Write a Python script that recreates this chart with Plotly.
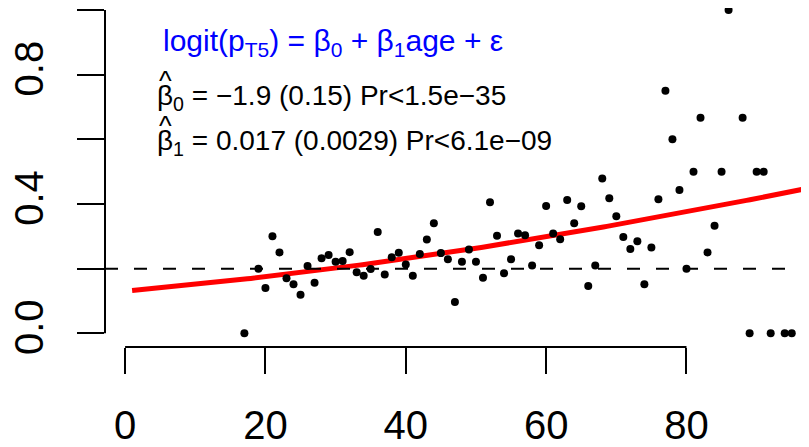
import numpy as np
import plotly.graph_objects as go

# ---- data ----
ages = [17, 19, 20, 21, 22, 23, 24, 25, 26, 27, 28, 29, 30, 31, 32, 33, 34, 35,
        36, 37, 38, 39, 40, 41, 42, 43, 44, 45, 46, 47, 48, 49, 50, 51, 52, 53,
        54, 55, 56, 57, 58, 59, 60, 61, 62, 63, 64, 65, 66, 67, 68, 69, 70, 71,
        72, 73, 74, 75, 76, 77, 78, 79, 80, 81, 82, 83, 84, 85, 86, 88, 89, 90,
        91, 92, 94, 95]
prop_t5 = [0.0, 0.2, 0.14, 0.3, 0.25, 0.17, 0.152, 0.119, 0.208, 0.156, 0.232,
           0.242, 0.221, 0.224, 0.251, 0.189, 0.178, 0.199, 0.313, 0.182, 0.235,
           0.249, 0.213, 0.178, 0.245, 0.29, 0.34, 0.248, 0.229, 0.097, 0.221,
           0.259, 0.221, 0.172, 0.405, 0.302, 0.186, 0.229, 0.309, 0.303, 0.21,
           0.272, 0.394, 0.309, 0.291, 0.412, 0.34, 0.393, 0.146, 0.21, 0.479,
           0.418, 0.362, 0.298, 0.261, 0.285, 0.152, 0.265, 0.415, 0.75, 0.6,
           0.443, 0.2, 0.5, 0.667, 0.25, 0.333, 0.5, 1.0, 0.667, 0.0, 0.5, 0.5,
           0.0, 0.0, 0.0]
beta0 = -1.90
beta1 = 0.0174
ref_level = 0.2
x_ticks = [0, 20, 40, 60, 80]
x_tick_labels = ["0", "20", "40", "60", "80"]
y_ticks = [0.0, 0.2, 0.4, 0.6, 0.8, 1.0]
y_tick_labels = ["0.0", "", "0.4", "", "0.8", ""]

FONT = "Liberation Sans, Arial, sans-serif"

fit_age = np.linspace(1, 100, 200)
fit_p = 1.0 / (1.0 + np.exp(-(beta0 + beta1 * fit_age)))

fig = go.Figure()
fig.add_trace(go.Scatter(x=fit_age, y=fit_p, mode="lines",
                         line=dict(color="#FF0000", width=5),
                         showlegend=False, hoverinfo="skip"))
fig.add_trace(go.Scatter(x=ages, y=prop_t5, mode="markers", cliponaxis=False,
                         marker=dict(color="black", size=8, line=dict(width=0)),
                         showlegend=False, hoverinfo="skip"))

# reference dashed line
fig.add_shape(type="line", xref="paper", yref="y", x0=0, x1=1,
              y0=ref_level, y1=ref_level,
              line=dict(color="black", width=2, dash="13px,16px"))
# R-style axis lines spanning only the tick range
fig.add_shape(type="line", xref="x", yref="paper", x0=x_ticks[0], x1=x_ticks[-1],
              y0=0, y1=0, line=dict(color="black", width=2))
fig.add_shape(type="line", xref="paper", yref="y", x0=0, x1=0,
              y0=y_ticks[0], y1=y_ticks[-1], line=dict(color="black", width=2))

fig.add_annotation(xref="paper", yref="paper", x=0.0795, y=0.8997,
                   xanchor="left", yanchor="middle", showarrow=False,
                   text="logit(p<sub>T5</sub>) = β<sub>0</sub> + β<sub>1</sub>age + ε",
                   font=dict(family=FONT, size=30, color="#0000FF"))
for yy, hy, txt in [(0.7366, 0.7847, "β<sub>0</sub> = −1.9 (0.15) Pr&lt;1.5e−35"),
                    (0.6032, 0.6519, "β<sub>1</sub> = 0.017 (0.0029) Pr&lt;6.1e−09")]:
    fig.add_annotation(xref="paper", yref="paper", x=0.0710, y=yy,
                       xanchor="left", yanchor="middle", showarrow=False,
                       text=txt, font=dict(family=FONT, size=28, color="black"))
    fig.add_annotation(xref="paper", yref="paper", x=0.0735, y=hy,
                       xanchor="left", yanchor="middle", showarrow=False,
                       text="^", font=dict(family=FONT, size=27, color="black"))

# the page body has an 8px margin; the figure is sized and placed to compensate
fig.update_layout(
    width=801, height=439,
    margin=dict(l=97, r=0, t=0, b=100, pad=0),
    plot_bgcolor="white", paper_bgcolor="white",
    font=dict(family=FONT, color="black"),
    xaxis=dict(range=[-2.864, 97.46], tickmode="array", tickvals=x_ticks,
               ticktext=x_tick_labels, ticks="outside", ticklen=26, tickwidth=2,
               tickcolor="black", showgrid=False, zeroline=False, showline=False,
               automargin=False,
               tickfont=dict(family=FONT, size=40, color="black"),
               ticklabelstandoff=17),
    yaxis=dict(range=[-0.0424, 1.0062], tickmode="array", tickvals=y_ticks,
               ticktext=y_tick_labels, ticks="outside", ticklen=27, tickwidth=2,
               tickcolor="black", showgrid=False, zeroline=False, showline=False,
               tickangle=-90, automargin=False,
               tickfont=dict(family=FONT, size=40, color="black"),
               ticklabelstandoff=18),
)

fig.write_html("out.html")
